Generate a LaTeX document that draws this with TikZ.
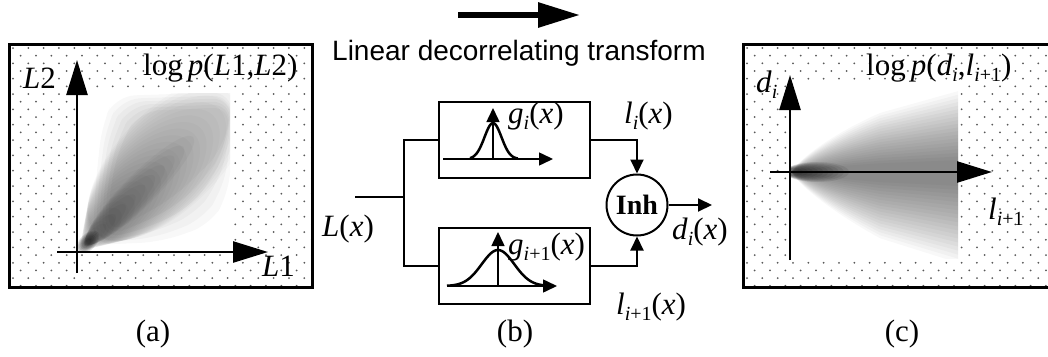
\documentclass[tikz,border=0pt]{standalone}
\usepackage{fontspec}
\setmainfont{Liberation Serif}
\setsansfont{Liberation Sans}
\usetikzlibrary{arrows.meta}
\newcommand\lbl{\fontsize{31}{31}\selectfont}
\newcommand\sbx[1]{\raisebox{-0.2em}{\fontsize{20}{20}\selectfont #1}}
\newcommand\dotfield[4]{%
  \begin{scope}
    \clip (#1,#2) rectangle (#3,#4);
    \foreach \r in {0,...,32}{
      \foreach \c in {0,...,21}{
        \fill[dotc] ({#1+4+15.33*\c+7.67*mod(\r,2)},{#2+4+7.67*\r}) circle (1);
      }
    }
  \end{scope}}
\colorlet{dotc}{black!65}
\tikzset{
  frame/.style={line width=3pt},
  bigaxis/.style={line width=2.5pt,-{Triangle[length=35pt,width=21pt]}},
  smallaxis/.style={line width=1.5pt,-{Triangle[length=14pt,width=13pt]}},
  conn/.style={line width=2pt},
  connarrow/.style={line width=2pt,-{Triangle[length=14pt,width=13pt]}},
  blockbox/.style={draw,line width=2pt,minimum width=151pt,minimum height=76pt,inner sep=0pt},
  txt/.style={inner sep=0pt,anchor=base west,font=\lbl},
  gauss/.style={line width=2.5pt,line join=round},
  cloud/.style={fill=black,opacity=0.019}
}
\begin{document}
\begin{tikzpicture}[x=1pt,y=-1pt]
\clip (0,0) rectangle (1048,356);
\fill[white] (0,0) rectangle (1048,356);

% ---------- panel (a) ----------
\dotfield{9}{44}{312}{287}
\fill[white] (77,93) rectangle (230,252);
\begin{scope}
  \clip (77,93) rectangle (230,252);
  \foreach \k in {0,...,5}{
    \fill[black,opacity=0.026,rounded corners=20pt]
      ({92+3*\k},{245-2*\k}) -- ({96+3*\k},180) -- ({102+4*\k},{125+3*\k}) -- ({115+5*\k},{96+3*\k}) -- (232,{92+3*\k}) -- ({232-2*\k},150) -- ({228-6*\k},{195-4*\k}) -- ({210-8*\k},{225-5*\k}) -- ({160-6*\k},{242-4*\k}) -- cycle;
  }
  \foreach \k in {0,...,24}{
    \pgfmathsetmacro\t{\k/24}
    \pgfmathsetmacro\cx{170-82*\t}
    \pgfmathsetmacro\cy{158+84*\t}
    \pgfmathsetmacro\rx{105-96*\t}
    \pgfmathsetmacro\ry{50-44*\t}
    \fill[cloud,rotate around={45:(\cx,\cy)}] (\cx,\cy) ellipse [x radius=\rx, y radius=\ry];
  }
  \foreach \k in {0,...,9}{
    \pgfmathsetmacro\t{\k/9}
    \pgfmathsetmacro\cx{140-45*\t}
    \pgfmathsetmacro\cy{190+45*\t}
    \fill[black,opacity=0.03,rotate around={45:(\cx,\cy)}] (\cx,\cy) ellipse [x radius={75-60*\t}, y radius={16-10*\t}];
  }
  \foreach \k in {0,...,6}{
    \fill[black,opacity=0.12,rotate around={45:(88,242)}] (88,242) ellipse [x radius={14-1.6*\k}, y radius={8-0.9*\k}];
  }
\end{scope}
\draw[frame] (9,44) rectangle (312,287);
\coordinate (ay0) at (77,273);
\coordinate (ay1) at (77,60);
\coordinate (ax0) at (57,252);
\coordinate (ax1) at (268,252);
\draw[bigaxis] (ay0) -- (ay1);
\draw[bigaxis] (ax0) -- (ax1);
\node[txt] (aL2) at (23,88) {\textit{L}2};
\node[txt] (alog) at (143,75) {log\,\textit{p}(\textit{L}1,\textit{L}2)};
\node[txt] (aL1) at (262,276) {\textit{L}1};
\node[inner sep=0pt,anchor=base,font=\lbl] (la) at (153,341) {(a)};

% ---------- panel (c) ----------
\dotfield{743}{44}{1060}{287}
\fill[white] (790,83) rectangle (958,258);
\begin{scope}
  \clip (790,83) rectangle (958,258);
  \foreach \k in {0,...,19}{
    \pgfmathsetmacro\t{\k/19}
    \pgfmathsetmacro\up{82-70*\t}
    \pgfmathsetmacro\dn{92-78*\t}
    \pgfmathsetmacro\mu{(\up)*0.45}
    \pgfmathsetmacro\md{(\dn)*0.42}
    \fill[black,opacity=0.027] (791,172) .. controls (800,{172-\mu*0.35}) and (830,{172-\mu}) .. (880,{172-\up*0.72}) -- (962,{172-\up}) -- (962,{172+\dn}) -- (880,{172+\dn*0.72}) .. controls (830,{172+\md}) and (800,{172+\md*0.35}) .. cycle;
  }
  \foreach \k in {0,...,9}{
    \pgfmathsetmacro\t{\k/9}
    \fill[black,opacity=0.08] ({795+22*(1-\t)},172) ellipse [x radius={32-24*\t}, y radius={10-6*\t}];
  }
\end{scope}
\draw[frame] (743,44) rectangle (1060,287);
\coordinate (cy0) at (790,260);
\coordinate (cy1) at (790,75);
\coordinate (cx0) at (770,172);
\coordinate (cx1) at (992,172);
\draw[bigaxis] (cy0) -- (cy1);
\draw[bigaxis] (cx0) -- (cx1);
\node[txt] (cd) at (756,92) {\textit{d}\sbx{\textit{i}}};
\node[txt] (clog) at (866,75) {log\,\textit{p}(\textit{d}\sbx{\textit{i}},\textit{l}\sbx{\textit{i}+1})};
\node[txt] (cl) at (988,219) {\textit{l}\sbx{\textit{i}+1}};
\node[inner sep=0pt,anchor=base,font=\lbl] (lc) at (902,341) {(c)};

% ---------- top arrow and title ----------
\coordinate (ta0) at (458,15);
\coordinate (ta1) at (580,15);
\draw[line width=6pt,-{Triangle[length=42pt,width=24pt]}] (ta0) -- (ta1);
\node[inner sep=0pt,anchor=base west,font=\sffamily\fontsize{28}{28}\selectfont] (title) at (332,60) {Linear decorrelating transform};

% ---------- panel (b) ----------
\node[blockbox] (b1) at (514.5,140) {};
\node[blockbox] (b2) at (514.5,266) {};
\node[circle,draw,line width=2pt,minimum size=61pt,inner sep=0pt,font=\bfseries\fontsize{28}{28}\selectfont] (inh) at (637,205) {Inh};
\coordinate (in) at (355,197);
\coordinate (split) at (404,197);
\coordinate (out) at (712,205);
\draw[conn] (in) -- (split);
\draw[conn] (b1.west) -| (split) |- (b2.west);
\draw[connarrow] (b1.east) -| (inh.north);
\draw[connarrow] (b2.east) -| (inh.south);
\draw[connarrow] (inh.east) -- (out);

% gaussian 1
\coordinate (g1x0) at (443,159);
\coordinate (g1x1) at (553,159);
\coordinate (g1y1) at (493,108);
\draw[smallaxis] (g1x0) -- (g1x1);
\draw[smallaxis] (493,159) -- (g1y1);
\draw[gauss] plot[domain=-23:25,samples=50] ({493+\x},{159-36*exp(-(\x/12)^2)});
% gaussian 2
\coordinate (g2x0) at (447,286);
\coordinate (g2x1) at (557,286);
\coordinate (g2y1) at (498,232);
\draw[smallaxis] (g2x0) -- (g2x1);
\draw[smallaxis] (498,286) -- (g2y1);
\draw[gauss] plot[domain=-51:50,samples=60] ({498+\x},{286-36*exp(-(\x/23)^2)});

\node[txt] (gi) at (508,123) {\textit{g}\sbx{\textit{i}}(\textit{x})};
\node[txt] (gi1) at (508,254) {\textit{g}\sbx{\textit{i}+1}(\textit{x})};
\node[txt] (li) at (624,123) {\textit{l}\sbx{\textit{i}}(\textit{x})};
\node[txt] (di) at (672,239) {\textit{d}\sbx{\textit{i}}(\textit{x})};
\node[txt] (li1) at (616,314) {\textit{l}\sbx{\textit{i}+1}(\textit{x})};
\node[txt] (Lx) at (322,236) {\textit{L}(\textit{x})};
\node[inner sep=0pt,anchor=base,font=\lbl] (lb) at (515,341) {(b)};
\end{tikzpicture}
\end{document}
